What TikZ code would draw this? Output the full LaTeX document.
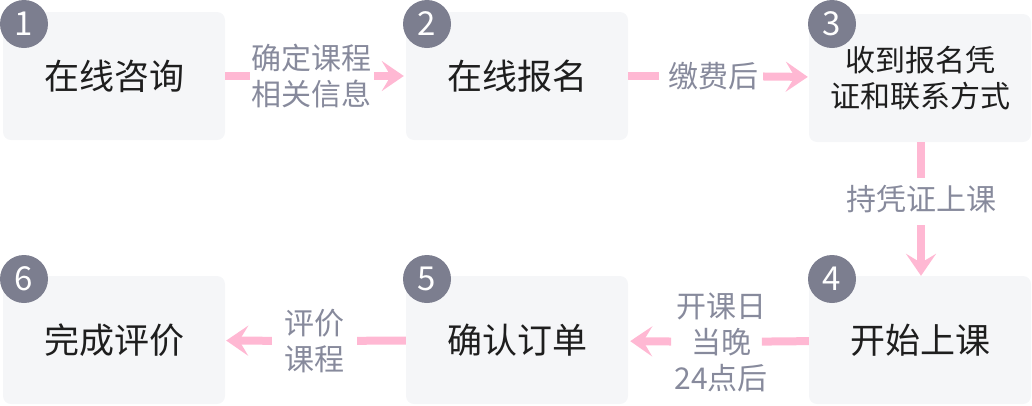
\documentclass[tikz,border=0pt]{standalone}
\usepackage{fontspec}
\setmainfont{Noto Sans CJK SC}
\usetikzlibrary{arrows.meta}
\definecolor{boxgray}{HTML}{F5F6F8}
\definecolor{badgegray}{HTML}{7C7E8F}
\definecolor{flowpink}{HTML}{FFB8D3}
\definecolor{notegray}{HTML}{878A9C}
\definecolor{ink}{HTML}{1E1E1E}
\begin{document}
\begin{tikzpicture}[x=1pt, y=-1pt,
    stepbox/.style={fill=boxgray, rounded corners=8pt, minimum width=222pt, minimum height=128pt, inner sep=0pt, align=center, text=ink, font=\fontsize{35}{40}\selectfont},
    badge/.style={circle, fill=badgegray, minimum size=48pt, inner sep=0pt, text=white, font=\fontsize{33}{33}\selectfont},
    note/.style={text=notegray, align=center, inner sep=0pt, font=\fontsize{30}{36}\selectfont},
    flow/.style={draw=flowpink, line width=8pt},
    flowtip/.style={flow, -{Stealth[length=22pt, width=30pt, inset=9pt]}}]
    \useasboundingbox (0,0) rectangle (1032,405);
    % steps
    \node[stepbox] (zx) at (114,76) {在线咨询};
    \node[stepbox] (bm) at (517,76) {在线报名};
    \node[stepbox, font=\fontsize{30}{36}\selectfont] (pz) at (920,78) {收到报名凭\\证和联系方式};
    \node[stepbox] (sk) at (920,340) {开始上课};
    \node[stepbox] (dd) at (517,340) {确认订单};
    \node[stepbox] (pj) at (114,340) {完成评价};
    \foreach \n/\x/\y in {1/24/24, 2/427/24, 3/832/24, 4/832/279, 5/427/279, 6/24/279}
        \node[badge] (n\n) at (\x,\y) {\n};
    % labels
    \node[note] (qd) at (311,76) {确定课程\\相关信息};
    \node[note] (jf) at (713,76) {缴费后};
    \node[note] (cp) at (921,199) {持凭证上课};
    \node[note] (kk) at (721,342) {开课日\\当晚\\24点后};
    \node[note] (pk) at (314,341) {评价\\课程};
    % arrows
    \draw[flow, shorten >=1pt] (zx) -- (qd);
    \draw[flowtip, shorten <=3pt, shorten >=2pt] (qd) -- (bm);
    \draw[flow, shorten >=9pt] (bm) -- (jf);
    \draw[flowtip, shorten <=5pt, shorten >=1pt] (jf) -- (pz);
    \draw[flow, shorten >=7pt] (pz.south -| cp) -- (cp);
    \draw[flowtip, shorten <=12pt] (cp) -- (sk.north -| cp);
    \draw[flow, shorten >=-6pt] (sk) -- (kk);
    \draw[flowtip, shorten <=3pt, shorten >=2pt] (kk) -- (dd);
    \draw[flow, shorten >=13pt] (dd) -- (pk);
    \draw[flowtip, shorten <=12pt, shorten >=1pt] (pk) -- (pj);
\end{tikzpicture}
\end{document}
